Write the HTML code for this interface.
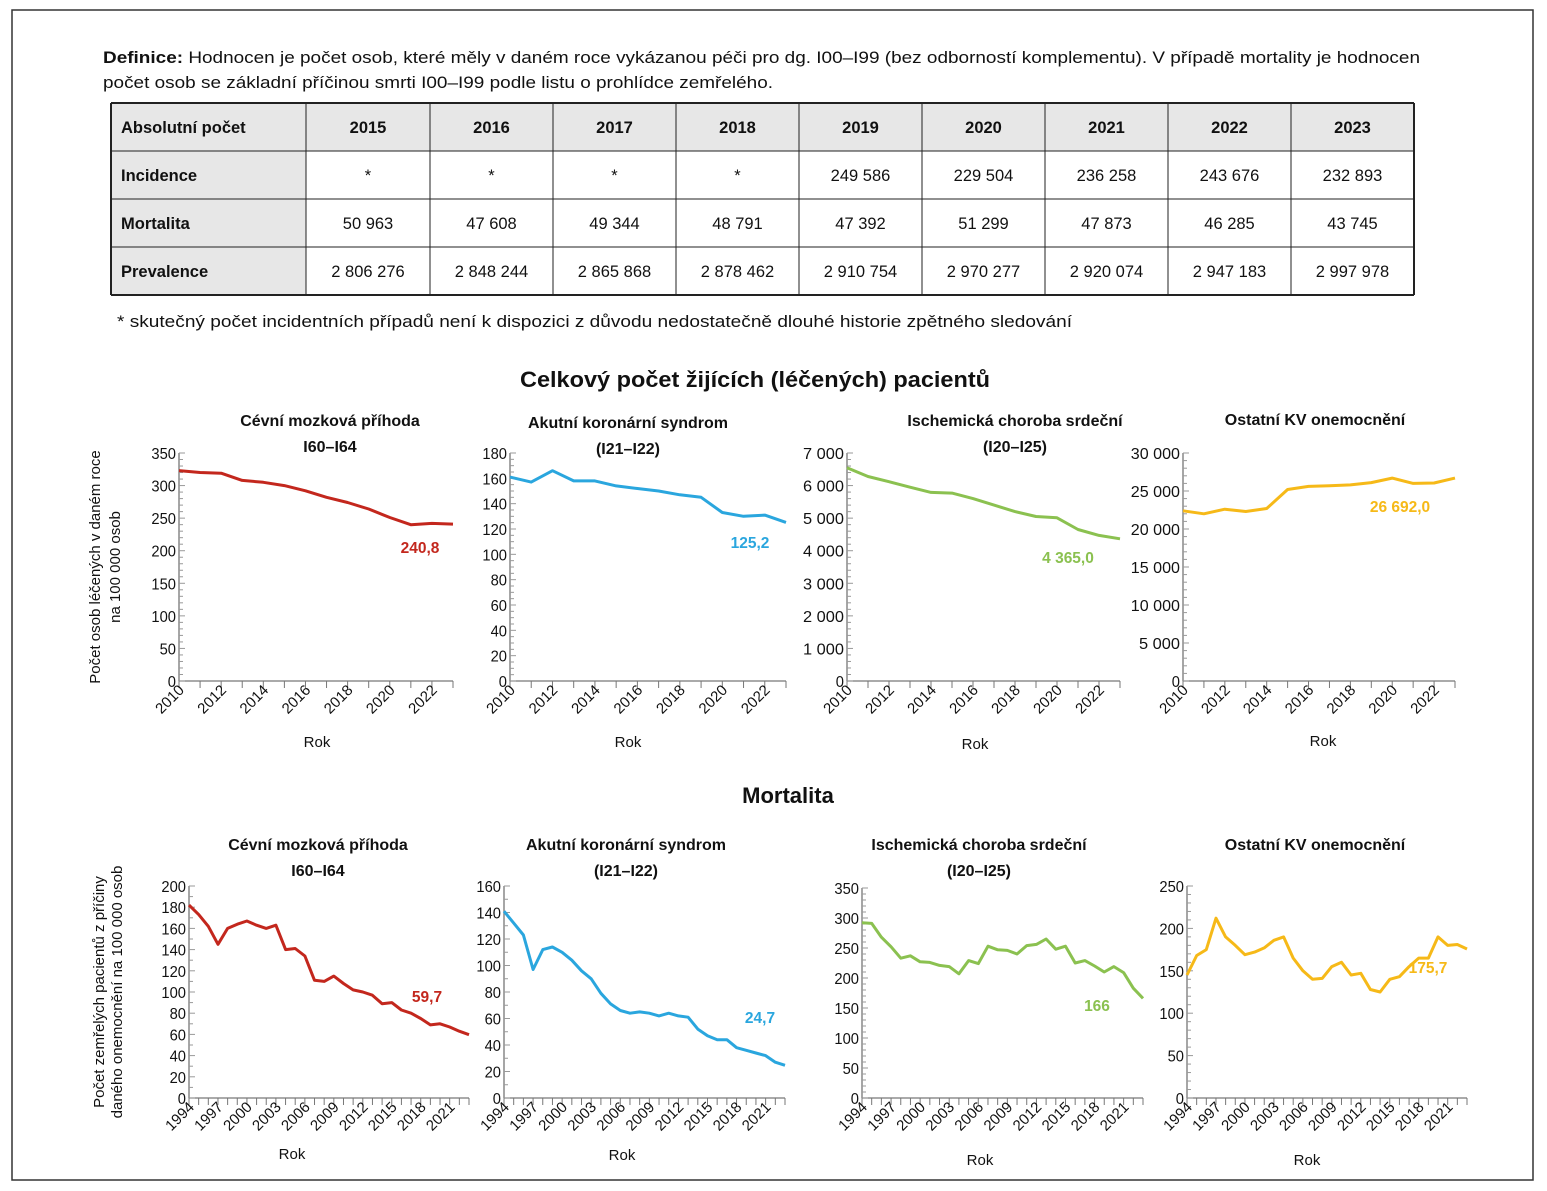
<!DOCTYPE html>
<html><head><meta charset="utf-8">
<style>
html,body{margin:0;padding:0;background:#fff;}
svg{display:block;font-family:"Liberation Sans",sans-serif;}
</style></head>
<body>
<svg id="page" width="1547" height="1191" viewBox="0 0 1547 1191" xmlns="http://www.w3.org/2000/svg">
<rect x="12" y="10" width="1521" height="1170" fill="#fff" stroke="#333" stroke-width="1.5"/>
<text x="103" y="63" font-size="17" fill="#111" textLength="1317" lengthAdjust="spacingAndGlyphs"><tspan font-weight="bold">Definice:</tspan> Hodnocen je počet osob, které měly v daném roce vykázanou péči pro dg. I00–I99 (bez odborností komplementu). V případě mortality je hodnocen</text>
<text x="103" y="88" font-size="17" fill="#111" textLength="670" lengthAdjust="spacingAndGlyphs">počet osob se základní příčinou smrti I00–I99 podle listu o prohlídce zemřelého.</text>
<g id="table"></g>
<text x="117" y="327" font-size="17" fill="#111" textLength="955" lengthAdjust="spacingAndGlyphs">* skutečný počet incidentních případů není k dispozici z důvodu nedostatečně dlouhé historie zpětného sledování</text>
<text x="755" y="387" font-size="22" font-weight="bold" text-anchor="middle" fill="#111" textLength="470" lengthAdjust="spacingAndGlyphs">Celkový počet žijících (léčených) pacientů</text>
<text x="788" y="803" font-size="22" font-weight="bold" text-anchor="middle" fill="#111">Mortalita</text>
<text transform="translate(100,567) rotate(-90)" font-size="15" text-anchor="middle" fill="#111">Počet osob léčených v daném roce</text>
<text transform="translate(120,567) rotate(-90)" font-size="15" text-anchor="middle" fill="#111">na 100 000 osob</text>
<text transform="translate(104,992) rotate(-90)" font-size="15" text-anchor="middle" fill="#111">Počet zemřelých pacientů z příčiny</text>
<text transform="translate(122,992) rotate(-90)" font-size="15" text-anchor="middle" fill="#111">daného onemocnění na 100 000 osob</text>
<g id="charts"></g>
</svg>
<script>
// ---------- table data ----------
const tableYears = ["2015","2016","2017","2018","2019","2020","2021","2022","2023"];
const incidence = ["*","*","*","*","249 586","229 504","236 258","243 676","232 893"];
const mortality = ["50 963","47 608","49 344","48 791","47 392","51 299","47 873","46 285","43 745"];
const prevalence = ["2 806 276","2 848 244","2 865 868","2 878 462","2 910 754","2 970 277","2 920 074","2 947 183","2 997 978"];

// ---------- chart data ----------
const yearsPrev = [2010,2011,2012,2013,2014,2015,2016,2017,2018,2019,2020,2021,2022,2023];
const prevStroke = [323,320,319,308,305,300,292,282,274,264,251,240,242,240.8];
const prevAcs = [161,157,166,158,158,154,152,150,147,145,133,130,131,125.2];
const prevIhd = [6550,6280,6120,5950,5790,5770,5600,5400,5200,5050,5010,4650,4470,4365];
const prevOther = [22400,22000,22600,22300,22700,25200,25600,25700,25800,26100,26700,26000,26050,26692];
const prevXTicks = [2010,2012,2014,2016,2018,2020,2022];

const yearsMort = [1994,1995,1996,1997,1998,1999,2000,2001,2002,2003,2004,2005,2006,2007,2008,2009,2010,2011,2012,2013,2014,2015,2016,2017,2018,2019,2020,2021,2022,2023];
const mortStroke = [182,173,162,145,160,164,167,163,160,163,140,141,134,111,110,115,108,102,100,97,89,90,83,80,75,69,70,67,63,59.7];
const mortAcs = [141,132,123,97,112,114,110,104,96,90,79,71,66,64,65,64,62,64,62,61,52,47,44,44,38,36,34,32,27,24.7];
const mortIhd = [292,291,268,252,233,237,227,226,221,219,207,229,224,253,247,246,240,254,256,265,248,253,225,229,220,210,219,209,183,166];
const mortOther = [145,168,175,212,190,180,169,172,177,186,190,165,150,140,141,155,160,145,147,128,125,140,143,155,165,165,190,180,181,175.7];
const mortXTicks = [1994,1997,2000,2003,2006,2009,2012,2015,2018,2021];

const labelStroke = ["240,8","59,7"];
const labelAcs = ["125,2","24,7"];
const labelIhd = ["4 365,0","166"];
const labelOther = ["26 692,0","175,7"];

const NS="http://www.w3.org/2000/svg";
function mk(tag, attrs, parent, txt){
  const e=document.createElementNS(NS,tag);
  for(const k in attrs) e.setAttribute(k,attrs[k]);
  if(txt!==undefined) e.textContent=txt;
  parent.appendChild(e); return e;
}

// ---------- table ----------
(function(){
  const g=document.getElementById('table');
  const colX=[111,306,430,553,676,799,922,1045,1168,1291,1414];
  const rowY=[103,151,199,247,295];
  const rows=[["Absolutní počet"].concat(tableYears),["Incidence"].concat(incidence),["Mortalita"].concat(mortality),["Prevalence"].concat(prevalence)];
  const bg=mk('rect',{x:111,y:103,width:195,height:192,fill:'#e7e7e7'},g);
  
  
  const hb=mk('rect',{x:111,y:103,width:1303,height:48,fill:'#e7e7e7'},g);
  
  
  for(let r=0;r<4;r++){
    for(let c=0;c<10;c++){
      const cx = c===0 ? 121 : (colX[c]+colX[c+1])/2;
      const t=mk('text',{x:cx,y:(rowY[r]+rowY[r+1])/2+6,'font-size':16.5,'text-anchor':c===0?'start':'middle','font-weight':(r===0||c===0)?'bold':'normal',fill:'#111'},g,rows[r][c]);
      
      
    }
  }
  for(const x of colX) mk('line',{x1:x,y1:103,x2:x,y2:295,stroke:'#222','stroke-width':x===111||x===1414?2:1},g);
  for(const y of rowY) mk('line',{x1:111,y1:y,x2:1414,y2:y,stroke:'#222','stroke-width':y===103||y===295?2:1},g);
})();

// ---------- charts ----------
function chart(cfg){
  const g=mk('g',{},document.getElementById('charts'));
  
  
  const x0=cfg.x0,x1=cfg.x1,yT=cfg.yT,yB=cfg.yB;
  const yrs=cfg.years;
  const X=v=>x0+(v-yrs[0])/(yrs[yrs.length-1]-yrs[0])*(x1-x0);
  const Y=v=>yB-(v/cfg.max)*(yB-yT);
  cfg.title.forEach((t,i)=>{
    const e=mk('text',{x:cfg.tx,y:cfg.ty+i*26,'font-size':16,'font-weight':'bold','text-anchor':'middle',fill:'#111'},g,t);
    
    
  });
  const ya=mk('line',{x1:x0,y1:yT,x2:x0,y2:yB,stroke:'#777','stroke-width':1.3},g);
  
  
  const xa=mk('line',{x1:x0,y1:yB,x2:x1,y2:yB,stroke:'#777','stroke-width':1.3},g);
  
  
  const nMinor=cfg.minor;
  for(let v=0; v<=cfg.max+1e-9; v+=cfg.step/nMinor){
    const major=Math.abs(v/cfg.step-Math.round(v/cfg.step))<1e-6;
    mk('line',{x1:x0,y1:Y(v),x2:x0+(major?6:4),y2:Y(v),stroke:'#999','stroke-width':1},g);
  }
  for(let v=0; v<=cfg.max+1e-9; v+=cfg.step){
    const t=mk('text',{x:x0-3,y:Y(v)+6,'font-size':16,'text-anchor':'end',fill:'#111',textLength:cfg.fmt(v).length*8.2,lengthAdjust:'spacingAndGlyphs'},g,cfg.fmt(v));
    
    
  }
  yrs.forEach(yr=>mk('line',{x1:X(yr),y1:yB,x2:X(yr),y2:yB+7,stroke:'#777','stroke-width':1},g));
  cfg.xticks.forEach(yr=>{
    const t=mk('text',{transform:`translate(${X(yr)+6},${yB+10}) rotate(-45)`,'font-size':15,'text-anchor':'end',fill:'#111'},g,String(yr));
    
    
  });
  const rk=mk('text',{x:cfg.rokX,y:cfg.rokY,'font-size':15,'text-anchor':'middle',fill:'#111'},g,'Rok');
  
  
  const d=cfg.values.map((v,i)=>(i?'L':'M')+X(yrs[i]).toFixed(1)+','+Y(v).toFixed(1)).join(' ');
  const p=mk('path',{d:d,fill:'none',stroke:cfg.color,'stroke-width':3,'stroke-linejoin':'round'},g);
  
  
  const lb=mk('text',{x:cfg.lx,y:cfg.ly,'font-size':15.5,'font-weight':'bold','text-anchor':'middle',fill:cfg.color},g,cfg.label);
  
  
}
const sp=v=>{const s=String(v);return s.length>3?s.slice(0,-3)+' '+s.slice(-3):s;};
const RED='#c3271d',BLUE='#2aa6de',GREEN='#8bc150',YEL='#f6b918';
chart({name:'chart-prev-stroke',x0:179,x1:453,yT:453,yB:681,years:yearsPrev,values:prevStroke,max:350,step:50,minor:5,fmt:String,xticks:prevXTicks,color:RED,title:['Cévní mozková příhoda','I60–I64'],tx:330,ty:426,rokX:317,rokY:747,label:labelStroke[0],lx:420,ly:553});
chart({name:'chart-prev-acs',x0:510,x1:786,yT:453,yB:681,years:yearsPrev,values:prevAcs,max:180,step:20,minor:4,fmt:String,xticks:prevXTicks,color:BLUE,title:['Akutní koronární syndrom','(I21–I22)'],tx:628,ty:428,rokX:628,rokY:747,label:labelAcs[0],lx:750,ly:548});
chart({name:'chart-prev-ihd',x0:847,x1:1120,yT:453,yB:681,years:yearsPrev,values:prevIhd,max:7000,step:1000,minor:5,fmt:sp,xticks:prevXTicks,color:GREEN,title:['Ischemická choroba srdeční','(I20–I25)'],tx:1015,ty:426,rokX:975,rokY:749,label:labelIhd[0],lx:1068,ly:563});
chart({name:'chart-prev-other',x0:1183,x1:1455,yT:453,yB:681,years:yearsPrev,values:prevOther,max:30000,step:5000,minor:5,fmt:sp,xticks:prevXTicks,color:YEL,title:['Ostatní KV onemocnění'],tx:1315,ty:425,rokX:1323,rokY:746,label:labelOther[0],lx:1400,ly:512});
chart({name:'chart-mort-stroke',x0:189,x1:469,yT:886,yB:1098,years:yearsMort,values:mortStroke,max:200,step:20,minor:2,fmt:String,xticks:mortXTicks,color:RED,title:['Cévní mozková příhoda','I60–I64'],tx:318,ty:850,rokX:292,rokY:1159,label:labelStroke[1],lx:427,ly:1002});
chart({name:'chart-mort-acs',x0:504,x1:785,yT:886,yB:1098,years:yearsMort,values:mortAcs,max:160,step:20,minor:2,fmt:String,xticks:mortXTicks,color:BLUE,title:['Akutní koronární syndrom','(I21–I22)'],tx:626,ty:850,rokX:622,rokY:1160,label:labelAcs[1],lx:760,ly:1023});
chart({name:'chart-mort-ihd',x0:862,x1:1143,yT:888,yB:1098,years:yearsMort,values:mortIhd,max:350,step:50,minor:5,fmt:String,xticks:mortXTicks,color:GREEN,title:['Ischemická choroba srdeční','(I20–I25)'],tx:979,ty:850,rokX:980,rokY:1165,label:labelIhd[1],lx:1097,ly:1011});
chart({name:'chart-mort-other',x0:1187,x1:1467,yT:886,yB:1098,years:yearsMort,values:mortOther,max:250,step:50,minor:5,fmt:String,xticks:mortXTicks,color:YEL,title:['Ostatní KV onemocnění'],tx:1315,ty:850,rokX:1307,rokY:1165,label:labelOther[1],lx:1428,ly:973});
</script>
</body></html>
